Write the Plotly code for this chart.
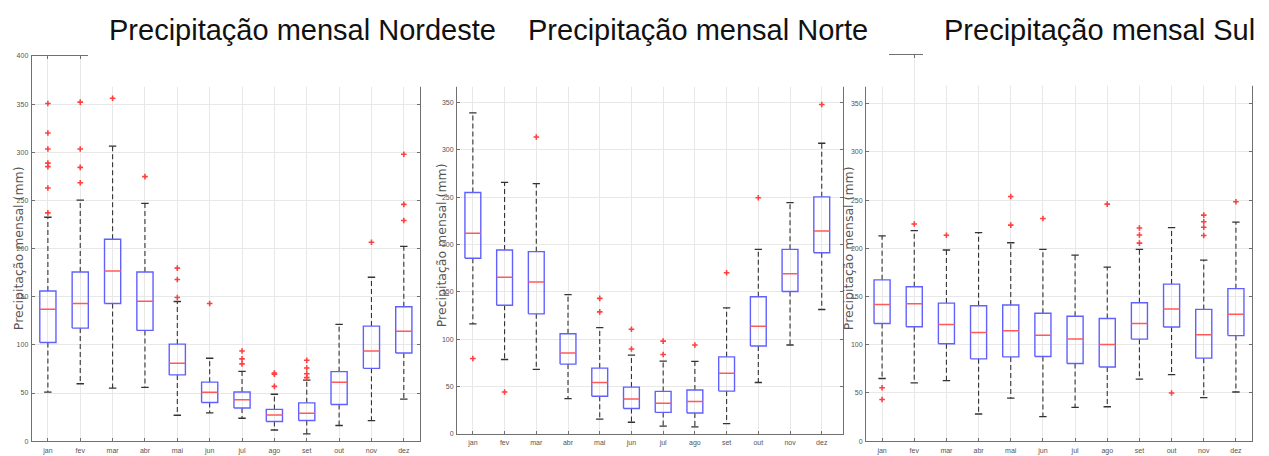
import plotly.graph_objects as go

W, H = 1269, 456
months = ["jan", "fev", "mar", "abr", "mai", "jun", "jul", "ago", "set", "out", "nov", "dez"]
titles = ["Precipitação mensal Nordeste", "Precipitação mensal Norte", "Precipitação mensal Sul"]
ylabel = "Precipitação mensal (mm)"

# Nordeste
ne_q1 = [102.5, 117.4, 143.0, 115.0, 68.8, 40.2, 34.4, 20.4, 21.4, 38.1, 75.6, 91.6]
ne_med = [136.9, 143.0, 176.7, 145.4, 81.0, 50.7, 42.9, 27.2, 28.9, 61.3, 93.6, 114.0]
ne_q3 = [155.9, 175.7, 209.7, 175.7, 100.8, 61.3, 51.1, 33.0, 39.8, 72.2, 119.5, 139.6]
ne_lo = [51.0, 59.6, 55.1, 55.8, 26.9, 29.3, 23.8, 11.6, 7.5, 16.3, 21.4, 43.6]
ne_hi = [232.5, 250.2, 306.4, 246.8, 145.0, 86.1, 72.5, 48.7, 63.3, 121.2, 170.2, 202.2]
ne_out = [[350.6, 320.0, 303.3, 288.7, 285.0, 262.8, 237.0],
          [352.0, 303.3, 284.3, 268.3],
          [356.0],
          [274.7],
          [179.7, 167.8, 149.1],
          [143.0],
          [93.6, 85.4, 80.3],
          [70.8, 69.5, 56.9],
          [84.1, 75.9, 70.0, 66.0],
          [],
          [206.6],
          [297.9, 245.8, 229.1]]

# Norte
n_q1 = [185.4, 135.8, 126.7, 73.6, 39.6, 26.7, 22.6, 21.9, 45.1, 92.7, 150.3, 191.3]
n_med = [211.8, 165.3, 160.4, 85.4, 54.2, 36.8, 32.3, 34.0, 63.9, 113.5, 169.1, 214.2]
n_q3 = [254.9, 194.1, 192.4, 105.6, 69.4, 49.3, 44.8, 46.2, 81.3, 144.8, 194.8, 250.3]
n_lo = [116.0, 78.5, 68.0, 37.2, 15.6, 12.2, 8.0, 7.3, 10.8, 54.2, 93.8, 131.3]
n_hi = [338.9, 265.6, 264.2, 146.9, 112.2, 83.0, 76.7, 76.4, 133.0, 194.8, 244.1, 306.9]
n_out = [[79.5], [44.1], [313.5], [], [143.0, 128.8], [110.4, 89.6], [97.9, 83.7],
         [93.8], [170.1], [249.3], [], [347.9]]

# Sul
s_q1 = [122.1, 118.7, 101.0, 85.4, 87.4, 87.8, 80.6, 76.9, 105.8, 118.4, 86.1, 109.5]
s_med = [141.8, 142.5, 121.1, 112.6, 114.6, 109.9, 106.1, 100.3, 122.1, 137.1, 110.5, 131.6]
s_q3 = [167.3, 160.2, 143.2, 140.5, 141.2, 132.7, 129.6, 127.2, 143.5, 162.9, 136.7, 158.2]
s_lo = [65.0, 60.5, 62.9, 28.2, 44.6, 25.5, 35.0, 35.7, 64.3, 69.0, 45.2, 51.0]
s_hi = [212.9, 218.4, 198.3, 216.3, 205.8, 199.0, 192.9, 180.6, 199.0, 221.4, 187.8, 227.2]
s_out = [[55.4, 43.2], [225.2], [213.6], [], [253.7, 224.1], [231.0], [],
         [245.9], [221.1, 213.9, 205.4], [50.0], [234.4, 227.6, 221.8, 213.3], [248.3]]

panels = [
    (ne_q1, ne_med, ne_q3, ne_lo, ne_hi, ne_out),
    (n_q1, n_med, n_q3, n_lo, n_hi, n_out),
    (s_q1, s_med, s_q3, s_lo, s_hi, s_out),
]

def px(x):
    return x / W

def py(y):
    return 1 - y / H

# plot-area geometry in pixels: (left, right, y at 0, y at 400), x range
geo = [
    (31.7, 420.0, 444.0, 52.7, [0.5, 12.5]),
    (457.0, 843.0, 436.5, 51.9, [0.5, 12.67]),
    (866.0, 1252.0, 444.0, 52.3, [0.5, 12.5]),
]

BW = 0.25
CW = 0.115
fig = go.Figure()

for k, (q1, med, q3, lo, hi, outs) in enumerate(panels):
    xa = "x" if k == 0 else f"x{k+1}"
    ya = "y" if k == 0 else f"y{k+1}"
    wx, wy, cx, cy, bx, by, mx, my, ox, oy = [], [], [], [], [], [], [], [], [], []
    for i in range(12):
        c = i + 1
        wx += [c, c, None, c, c, None]
        wy += [q3[i], hi[i], None, q1[i], lo[i], None]
        cx += [c - CW, c + CW, None, c - CW, c + CW, None]
        cy += [hi[i], hi[i], None, lo[i], lo[i], None]
        bx += [c - BW, c + BW, c + BW, c - BW, c - BW, None]
        by += [q1[i], q1[i], q3[i], q3[i], q1[i], None]
        mx += [c - BW, c + BW, None]
        my += [med[i], med[i], None]
        for v in outs[i]:
            ox.append(c)
            oy.append(v)
    fig.add_trace(go.Scatter(x=wx, y=wy, mode="lines", xaxis=xa, yaxis=ya,
                             line=dict(color="#333333", width=1.1, dash="5px,3px"),
                             hoverinfo="skip", showlegend=False))
    fig.add_trace(go.Scatter(x=cx, y=cy, mode="lines", xaxis=xa, yaxis=ya,
                             line=dict(color="#333333", width=1.3),
                             hoverinfo="skip", showlegend=False))
    fig.add_trace(go.Scatter(x=bx, y=by, mode="lines", xaxis=xa, yaxis=ya,
                             line=dict(color="#6060ff", width=1.4),
                             hoverinfo="skip", showlegend=False))
    fig.add_trace(go.Scatter(x=mx, y=my, mode="lines", xaxis=xa, yaxis=ya,
                             line=dict(color="#ff5a5a", width=1.5),
                             hoverinfo="skip", showlegend=False))
    fig.add_trace(go.Scatter(x=ox, y=oy, mode="markers", xaxis=xa, yaxis=ya,
                             marker=dict(symbol="cross-thin", size=4,
                                         line=dict(color="#ff4040", width=1.6)),
                             hoverinfo="skip", showlegend=False))

axis_common = dict(showgrid=True, gridcolor="#e8e8e8", gridwidth=1, zeroline=False,
                   showline=True, linecolor="#707070", linewidth=1, mirror="allticks",
                   ticks="inside", ticklen=3, tickcolor="#707070",
                   tickfont=dict(family="Liberation Sans", size=7, color="#555555"))

layout = dict(width=W, height=H, margin=dict(l=0, r=0, t=0, b=0),
              paper_bgcolor="white", plot_bgcolor="white", showlegend=False)
for k, (l, r, y0, y400, xr) in enumerate(geo):
    sx = "xaxis" if k == 0 else f"xaxis{k+1}"
    sy = "yaxis" if k == 0 else f"yaxis{k+1}"
    anc_x = "y" if k == 0 else f"y{k+1}"
    anc_y = "x" if k == 0 else f"x{k+1}"
    layout[sx] = dict(axis_common, domain=[px(l), px(r)], range=xr, anchor=anc_x,
                      tickvals=list(range(1, 13)), ticktext=months, ticklabelstandoff=2)
    layout[sy] = dict(axis_common, domain=[py(y0), py(y400)], range=[0, 400], anchor=anc_y,
                      dtick=50, tick0=0, ticklabelstandoff=1)

fig.update_layout(**layout)

# white covers (the reference collage hides the upper part of the frames)
covers = [(88, 0, 889, 84), (923, 0, W, 83), (889, 0, 923, 49)]
for (x0, y0, x1, y1) in covers:
    fig.add_shape(type="rect", xref="paper", yref="paper", x0=px(x0), x1=px(x1),
                  y0=py(y1), y1=py(y0), fillcolor="white", line=dict(width=0), layer="above")

title_x = [107, 526, 942]
for t, x in zip(titles, title_x):
    fig.add_annotation(text=t, xref="paper", yref="paper", x=px(x), y=py(26),
                       xanchor="left", yanchor="middle", showarrow=False,
                       font=dict(family="Liberation Sans", size=29, color="#111111"))

ylab_pos = [(18, 248), (441, 245), (848, 248)]
for (x, y) in ylab_pos:
    fig.add_annotation(text=ylabel, xref="paper", yref="paper", x=px(x), y=py(y),
                       xanchor="center", yanchor="middle", showarrow=False, textangle=-90,
                       font=dict(family="DejaVu Sans", size=12.5, color="#555555"))

fig.write_html("out.html")
